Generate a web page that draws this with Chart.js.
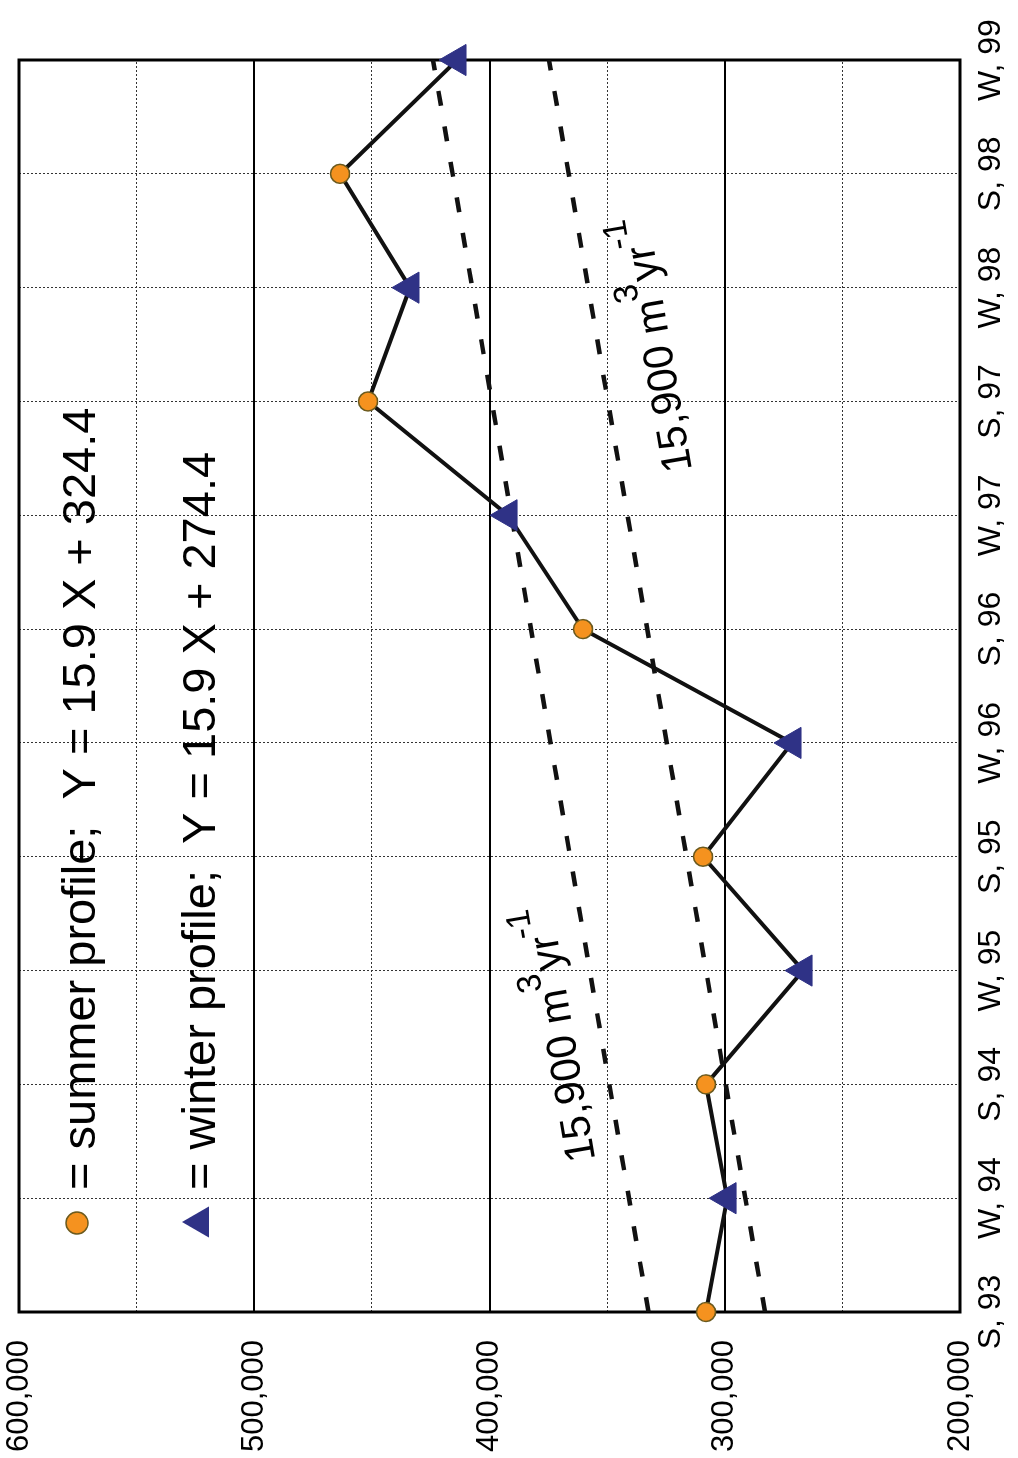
<!DOCTYPE html>
<html>
<head>
<meta charset="utf-8">
<title>Volume profile</title>
<script src="https://cdn.jsdelivr.net/npm/chart.js@4.4.1/dist/chart.umd.min.js"></script>
<style>
  html, body { margin: 0; padding: 0; background: #fff; }
  body { width: 1018px; height: 1458px; overflow: hidden; position: relative; }
  /* chart is drawn landscape and turned a quarter-turn counter-clockwise */
  #wrap {
    position: absolute; left: 0; top: 0;
    width: 1458px; height: 1018px;
    transform-origin: 0 0;
    transform: translate(0, 1458px) rotate(-90deg);
  }
</style>
</head>
<body>
<div id="wrap"><canvas id="chart" width="1458" height="1018"></canvas></div>
<script>
// --- data ---
const categories = ['S, 93', 'W, 94', 'S, 94', 'W, 95', 'S, 95', 'W, 96',
                    'S, 96', 'W, 97', 'S, 97', 'W, 98', 'S, 98', 'W, 99'];
const volumes = [308000, 299000, 308000, 266700, 309200, 271400,
                 360300, 392100, 451600, 433800, 463500, 413800];
const trendX = [0, 11];
const summerTrend = [332400, 424000];
const winterTrend = [282900, 374700];
const valueTicks = [200000, 300000, 400000, 500000, 600000];
const legendLines = ['= summer profile;  Y = 15.9 X + 324.4',
                     '= winter profile;  Y = 15.9 X + 274.4'];
const rateLabel = ['15,900 m', '3', 'yr', '-1'];

const FONT = '"Liberation Sans", Arial, Helvetica, sans-serif';
const ORANGE = '#f5921f';
const NAVY = '#2f3286';

const allPoints = volumes.map((v, i) => ({ x: i, y: v }));
const summerPoints = allPoints.filter((p, i) => categories[i].startsWith('S'));
const winterPoints = allPoints.filter((p, i) => categories[i].startsWith('W'));

// frame + in-plot legend + rate labels
const extras = {
    id: 'extras',
    beforeDatasetsDraw(chart) {
        const { ctx, chartArea: a } = chart;
        ctx.save();
        ctx.strokeStyle = '#000';
        ctx.lineWidth = 3;
        ctx.strokeRect(a.left, a.top, a.right - a.left, a.bottom - a.top);
        ctx.restore();
    },
    afterDatasetsDraw(chart) {
        const { ctx, chartArea: a, scales: { x, y } } = chart;
        ctx.save();
        ctx.fillStyle = '#000';

        // legend rows
        ctx.font = '47px ' + FONT;
        ctx.textBaseline = 'alphabetic';
        ctx.fillText(legendLines[0], a.left + 122, a.top + 76);
        ctx.fillText(legendLines[1], a.left + 122, a.top + 196);

        ctx.beginPath();
        ctx.arc(a.left + 89, a.top + 58, 11, 0, Math.PI * 2);
        ctx.fillStyle = ORANGE;
        ctx.fill();
        ctx.lineWidth = 1.5;
        ctx.strokeStyle = '#6b5a1e';
        ctx.stroke();

        const tx = a.left + 90, ty = a.top + 181, r = 18;
        ctx.beginPath();
        ctx.moveTo(tx, ty - r);
        ctx.lineTo(tx + r * 0.866, ty + r / 2);
        ctx.lineTo(tx - r * 0.866, ty + r / 2);
        ctx.closePath();
        ctx.fillStyle = NAVY;
        ctx.fill();

        // rate labels, tilted with the trend lines
        const angle = Math.atan2(
            y.getPixelForValue(summerTrend[1]) - y.getPixelForValue(summerTrend[0]),
            x.getPixelForValue(trendX[1]) - x.getPixelForValue(trendX[0]));
        const drawRate = (xv, yv) => {
            ctx.save();
            ctx.translate(x.getPixelForValue(xv), y.getPixelForValue(yv));
            ctx.rotate(angle);
            ctx.fillStyle = '#000';
            let cx = 0;
            ctx.font = '42px ' + FONT;
            ctx.fillText(rateLabel[0], cx, 0);
            cx += ctx.measureText(rateLabel[0]).width;
            ctx.font = '34px ' + FONT;
            ctx.fillText(rateLabel[1], cx, -24);
            cx += ctx.measureText(rateLabel[1]).width;
            ctx.font = '42px ' + FONT;
            ctx.fillText(rateLabel[2], cx, 0);
            cx += ctx.measureText(rateLabel[2]).width;
            ctx.font = '34px ' + FONT;
            ctx.fillText(rateLabel[3], cx, -24);
            ctx.restore();
        };
        drawRate(1.34, 355000);
        drawRate(7.40, 313900);
        ctx.restore();
    }
};

new Chart(document.getElementById('chart'), {
    type: 'scatter',
    data: {
        datasets: [
            {
                data: summerPoints, order: 0, clip: false,
                pointStyle: 'circle', pointRadius: 9.5,
                backgroundColor: ORANGE, borderColor: '#6b5a1e', borderWidth: 1.5
            },
            {
                data: winterPoints, order: 0, clip: false,
                pointStyle: 'triangle', pointRadius: 18,
                backgroundColor: NAVY, borderColor: NAVY, borderWidth: 1
            },
            {
                type: 'line', data: allPoints, order: 1,
                borderColor: '#111', borderWidth: 4, pointRadius: 0, tension: 0
            },
            {
                type: 'line', order: 2,
                data: trendX.map((xv, i) => ({ x: xv, y: summerTrend[i] })),
                borderColor: '#111', borderWidth: 4.5, borderDash: [15, 21], pointRadius: 0
            },
            {
                type: 'line', order: 2,
                data: trendX.map((xv, i) => ({ x: xv, y: winterTrend[i] })),
                borderColor: '#111', borderWidth: 4.5, borderDash: [15, 21], pointRadius: 0
            }
        ]
    },
    options: {
        responsive: false,
        animation: false,
        layout: { padding: { top: 19, right: 60, left: 0, bottom: 0 } },
        plugins: { legend: { display: false }, tooltip: { enabled: false } },
        scales: {
            x: {
                type: 'linear', min: 0, max: 11,
                afterFit: s => { s.height = 58; },
                ticks: {
                    stepSize: 1, autoSkip: false, maxRotation: 0, padding: 12,
                    color: '#000', font: { size: 32, family: FONT },
                    callback: v => categories[v]
                },
                grid: { drawTicks: false, color: '#333', lineWidth: 1 },
                border: { display: false, dash: [2, 2] }
            },
            y: {
                min: 200000, max: 600000,
                afterFit: s => { s.width = 146; s.paddingTop = 0; s.paddingBottom = 0; },
                afterBuildTicks: s => {
                    s.ticks = [];
                    for (let v = valueTicks[0]; v <= valueTicks[valueTicks.length - 1]; v += 50000) {
                        s.ticks.push({ value: v });
                    }
                },
                ticks: {
                    padding: 28, color: '#000', font: { size: 31, family: FONT },
                    callback: v => valueTicks.includes(v) ? v.toLocaleString('en-US') : ''
                },
                grid: {
                    drawTicks: false,
                    color: ctx => valueTicks.includes(ctx.tick && ctx.tick.value) ? '#000' : '#333',
                    lineWidth: ctx => valueTicks.includes(ctx.tick && ctx.tick.value) ? 2 : 1
                },
                border: {
                    display: false,
                    dash: ctx => valueTicks.includes(ctx.tick && ctx.tick.value) ? [] : [2, 2]
                }
            }
        }
    },
    plugins: [extras]
});
</script>
</body>
</html>
